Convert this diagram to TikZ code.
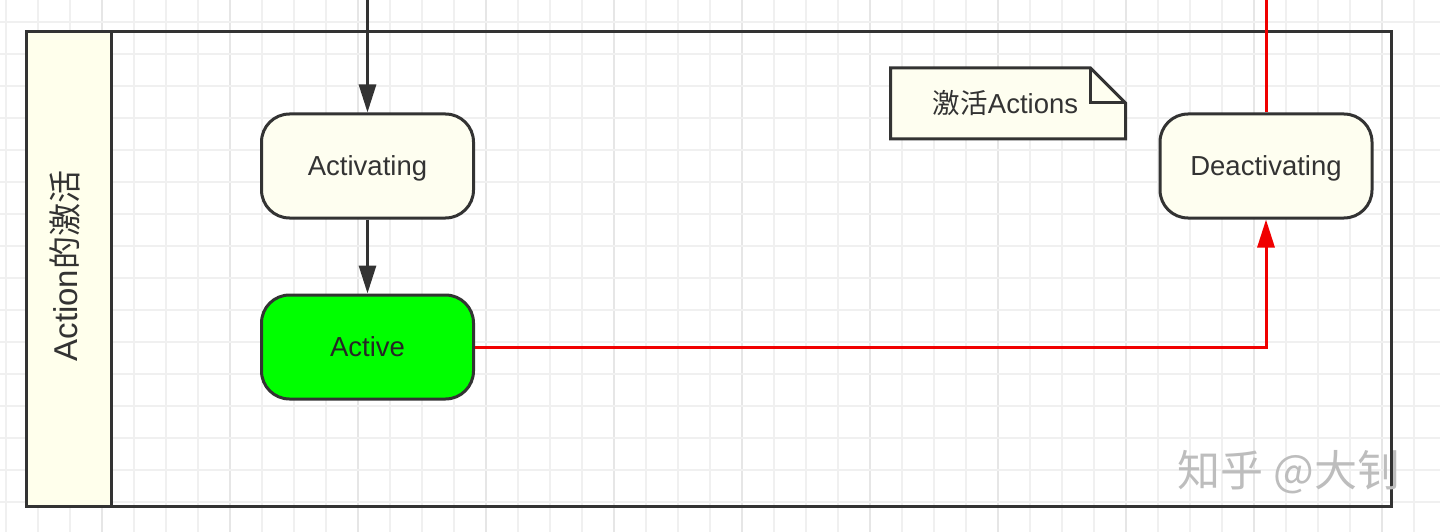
\documentclass[tikz,border=0pt]{standalone}
\usepackage{fontspec}
\setmainfont{Liberation Sans}
\newfontfamily\cjk{Noto Sans CJK SC}
\usetikzlibrary{arrows.meta}
\definecolor{ink}{HTML}{333333}
\definecolor{paper}{HTML}{FEFEF0}
\definecolor{lanefill}{HTML}{FFFFEC}
\definecolor{gridc}{HTML}{F0F0F0}
\definecolor{gridm}{HTML}{E6E6E6}
\definecolor{actgreen}{HTML}{00FF00}
\definecolor{flow}{HTML}{F00000}
\definecolor{wm}{HTML}{BDBDBD}
\begin{document}
\begin{tikzpicture}[x=1pt,y=-1pt,
  state/.style={draw=ink, line width=3pt, fill=paper, rounded corners=28pt,
    minimum width=212pt, minimum height=104pt, inner sep=0pt,
    font=\fontsize{27.5}{32}\selectfont, text=ink, text height=19.7pt, text depth=0pt},
  darrow/.style={draw=ink, line width=3pt, -{Triangle[length=28pt,width=17pt]}},
  rarrow/.style={draw=flow, line width=3pt, -{Triangle[length=28pt,width=17pt]}},
  rline/.style={draw=flow, line width=3pt},
  frame/.style={draw=ink, line width=3pt},
  gridline/.style={gridc, line width=1.6pt},
  gridmajor/.style={gridm, line width=1.6pt}]
\useasboundingbox (0,0) rectangle (1440,532);
\fill[white] (0,0) rectangle (1440,532);
% grid
\foreach \i in {0,...,44} {
  \pgfmathtruncatemacro{\m}{mod(\i,4)}
  \ifnum\m=3
    \draw[gridmajor] ({6+32*\i},0) -- ({6+32*\i},532);
  \else
    \draw[gridline] ({6+32*\i},0) -- ({6+32*\i},532);
  \fi
}
\foreach \j in {0,...,16} {
  \draw[gridline] (0,{22+32*\j}) -- (1440,{22+32*\j});
}
% pool frame
\coordinate (pnw) at (26,32);
\coordinate (pse) at (1391.5,506);
\coordinate (lse) at (111,506);
\coordinate (topc) at (0,-2);
\fill[lanefill] (pnw) rectangle (lse);
\draw[frame] (pnw) rectangle (pse);
\draw[frame] (111,32) -- (lse);
\node[rotate=90, text=ink, inner sep=0pt, font=\fontsize{33}{38}\selectfont,
  text height=23.6pt, text depth=0pt] (lane) at (66,266) {Action{\cjk 的激活}};
% states
\node[state] (act) at (367.5,166) {Activating};
\node[state, fill=actgreen, text=black!85] (active) at (367.5,347) {Active};
\node[state] (deact) at (1266,166) {Deactivating};
% note
\coordinate (nnw) at (890.5,68);
\coordinate (nse) at (1125.5,139);
\coordinate (nfa) at (1090.5,68);
\coordinate (nfb) at (1125.5,103);
\coordinate (nfc) at (1090.5,103);
\draw[frame, fill=paper, line join=miter]
  (nnw) -- (nfa) -- (nfb) -- (nse) -- (nnw |- nse) -- cycle;
\draw[frame, line join=miter] (nfa) -- (nfc) -- (nfb);
\node[text=ink, inner sep=0pt, font=\fontsize{27.5}{32}\selectfont,
  text height=19.7pt, text depth=0pt] (note) at (1005.5,103.5) {{\cjk 激活}Actions};
% connectors
\draw[darrow] (act.north |- topc) -- (act.north);
\draw[darrow] (act.south) -- (active.north);
\draw[rarrow] (active.east) -| (deact.south);
\draw[rline] (deact.north) -- (deact.north |- topc);
% watermark
\node[text=wm, inner sep=0pt, font=\cjk\fontsize{43}{48}\selectfont] (wmark) at (1289,472) {知乎 @大钊};
\end{tikzpicture}
\end{document}
